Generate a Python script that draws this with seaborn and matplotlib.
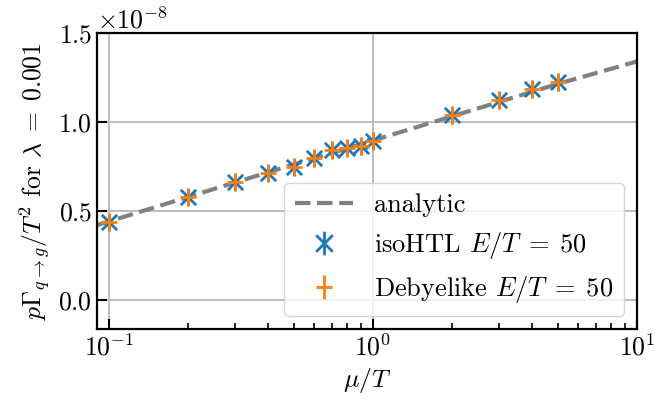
import numpy as np
import pandas as pd
import matplotlib
matplotlib.use("Agg")
import matplotlib.pyplot as plt
from matplotlib.path import Path
from matplotlib.lines import Line2D
import seaborn as sns

# ---- data (values in units of 1e-8) ----
mu_points = [0.1, 0.2, 0.3, 0.4, 0.5, 0.6, 0.7, 0.8, 0.9, 1.0, 2.0, 3.0, 4.0, 5.0]
iso_htl = [0.438, 0.58, 0.659, 0.712, 0.745, 0.796, 0.839, 0.852, 0.865, 0.895,
           1.039, 1.124, 1.184, 1.226]
debyelike = [0.438, 0.58, 0.659, 0.712, 0.745, 0.796, 0.839, 0.852, 0.865, 0.895,
             1.039, 1.124, 1.184, 1.226]
mu_analytic = [0.09, 0.1, 0.2, 0.3, 0.5, 1.0, 2.0, 3.0, 5.0, 10.0]
analytic = [0.419, 0.44, 0.578, 0.659, 0.76, 0.895, 1.032, 1.112, 1.213, 1.34]
scale = 1e-8

labels = ["analytic", r"isoHTL $E/T\;=\;50$", r"Debyelike $E/T\;=\;50$"]

FS = 18.5

sns.set_theme(style="whitegrid")
plt.rcParams.update({
    "font.family": "serif",
    "font.serif": ["cmr10", "DejaVu Serif"],
    "mathtext.fontset": "cm",
    "axes.formatter.use_mathtext": True,
    "axes.unicode_minus": True,
    "font.size": FS,
    "axes.labelsize": FS,
    "xtick.labelsize": FS,
    "ytick.labelsize": FS,
    "legend.fontsize": 19,
    "axes.edgecolor": "black",
    "axes.linewidth": 1.6,
    "grid.color": "#bdbdbd",
    "grid.linewidth": 1.4,
    "xtick.direction": "in",
    "ytick.direction": "in",
    "xtick.bottom": True,
    "ytick.left": True,
    "xtick.major.size": 7,
    "ytick.major.size": 7,
    "xtick.minor.size": 4,
    "xtick.major.width": 1.5,
    "ytick.major.width": 1.5,
    "xtick.minor.width": 1.2,
    "xtick.color": "black",
    "ytick.color": "black",
    "text.color": "black",
    "axes.labelcolor": "black",
})

fig = plt.figure(figsize=(6.55, 4.12), dpi=100)
ax = fig.add_axes([0.148, 0.2015, 0.8245, 0.7185])

df_an = pd.DataFrame({"mu": mu_analytic, "val": np.array(analytic) * scale})
df_pts = pd.DataFrame({"mu": mu_points,
                       "iso": np.array(iso_htl) * scale,
                       "deb": np.array(debyelike) * scale})

blue = "#1f77b4"
orange = "#ff7f0e"
gray = "#808080"


def star(a):
    return Path(
        [(-a, -a), (a, a), (-a, a), (a, -a), (0, -1), (0, 1)],
        [Path.MOVETO, Path.LINETO, Path.MOVETO, Path.LINETO, Path.MOVETO, Path.LINETO],
    )


def plus(a):
    return Path(
        [(-a, 0), (a, 0), (0, -1), (0, 1)],
        [Path.MOVETO, Path.LINETO, Path.MOVETO, Path.LINETO],
    )


sns.lineplot(data=df_an, x="mu", y="val", ax=ax, color=gray, linestyle="--",
             linewidth=3, zorder=2, legend=False)
sns.lineplot(data=df_pts, x="mu", y="iso", ax=ax, linestyle="", marker=star(0.88),
             markersize=12.5, markeredgewidth=2.0, markeredgecolor=blue,
             markerfacecolor="none", color=blue, zorder=3, legend=False)
sns.lineplot(data=df_pts, x="mu", y="deb", ax=ax, linestyle="", marker=plus(0.88),
             markersize=12.5, markeredgewidth=2.0, markeredgecolor=orange,
             markerfacecolor="none", color=orange, zorder=4, legend=False)

ax.set_xscale("log")
ax.set_xlim(0.09, 10)
ax.set_ylim(-0.165e-8, 1.5e-8)
ax.set_yticks([0, 0.5e-8, 1.0e-8, 1.5e-8])
ax.set_xlabel(r"$\mu/T$")
ax.set_ylabel(r"$p\Gamma_{q\to g}/T^2$ for $\lambda\;=\;0.001$")
ax.grid(True, which="major")
ax.grid(False, which="minor")
for s in ax.spines.values():
    s.set_visible(True)
    s.set_color("black")

handles = [
    Line2D([], [], color=gray, linestyle="--", linewidth=3),
    Line2D([], [], linestyle="", marker=star(0.7), markersize=17, markeredgewidth=2.0,
           markeredgecolor=blue, markerfacecolor="none"),
    Line2D([], [], linestyle="", marker=plus(0.7), markersize=17, markeredgewidth=2.0,
           markeredgecolor=orange, markerfacecolor="none"),
]
leg = ax.legend(handles, labels, loc="lower right", frameon=True, framealpha=0.8,
                edgecolor="#cccccc", fancybox=True, handlelength=2.2)

fig.savefig("out.png", dpi=100)
